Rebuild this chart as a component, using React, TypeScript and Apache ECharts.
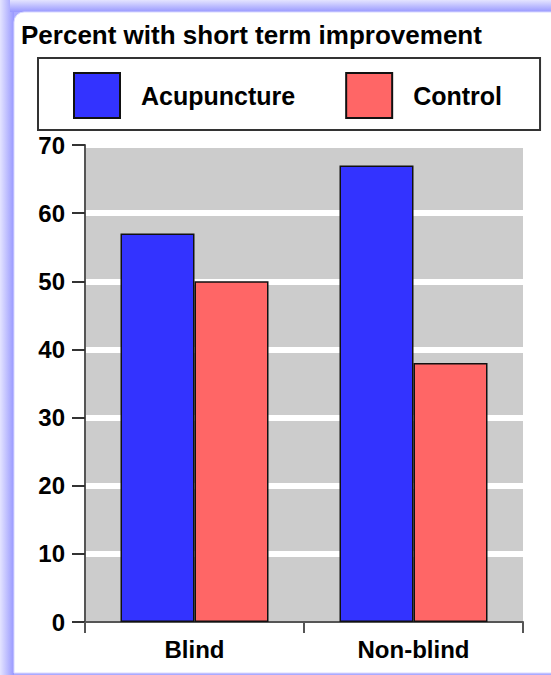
import React, { useEffect, useRef } from "react";
import * as echarts from "echarts";

const categories = ["Blind", "Non-blind"];
const seriesNames = ["Acupuncture", "Control"];
const acupunctureValues = [57, 67];
const controlValues = [50, 38];
const seriesColors = ["#3333ff", "#ff6666"];
const titleText = "Percent with short term improvement";

const FONT = "'Liberation Sans', Arial, Helvetica, sans-serif";

export default function App() {
  const ref = useRef<HTMLDivElement>(null);

  useEffect(() => {
    if (!ref.current) return;
    const chart = echarts.init(ref.current, undefined, { renderer: "svg" });
    const option = {
      animation: false,
      backgroundColor: "transparent",
      textStyle: { fontFamily: FONT },
      graphic: [
        {
          type: "rect",
          z: -100,
          silent: true,
          shape: { x: 0, y: 0, width: 551, height: 675 },
          style: { fill: "#aaaaff" },
        },
        {
          type: "rect",
          z: -99,
          silent: true,
          shape: { x: 0, y: 0, width: 14, height: 675 },
          style: {
            fill: new echarts.graphic.LinearGradient(0, 0, 1, 0, [
              { offset: 0, color: "#e4e4ff" },
              { offset: 1, color: "#9898ff" },
            ]),
          },
        },
        {
          type: "rect",
          z: -99,
          silent: true,
          shape: { x: 10, y: 0, width: 541, height: 12 },
          style: {
            fill: new echarts.graphic.LinearGradient(0, 0, 0, 1, [
              { offset: 0, color: "#e4e4ff" },
              { offset: 1, color: "#9898ff" },
            ]),
          },
        },
        {
          type: "rect",
          z: -98,
          silent: true,
          shape: { x: 14, y: 12, width: 600, height: 661, r: [10, 0, 0, 0] },
          style: { fill: "#ffffff", stroke: "#d8d8ff", lineWidth: 1 },
        },
      ],
      title: {
        text: titleText,
        left: 21,
        top: 22,
        padding: 0,
        textStyle: {
          fontFamily: FONT,
          fontSize: 26,
          fontWeight: "bold",
          color: "#000",
        },
      },
      legend: {
        left: 38,
        top: 58,
        orient: "horizontal",
        padding: [14, 38, 11, 35],
        borderColor: "#333",
        borderWidth: 2,
        itemWidth: 46,
        itemHeight: 45,
        itemGap: 50,
        icon: "rect",
        data: seriesNames,
        textStyle: {
          fontFamily: FONT,
          fontSize: 25,
          fontWeight: "bold",
          color: "#000",
          padding: [0, 0, 0, 16],
        },
      },
      grid: {
        left: 85,
        right: 28,
        top: 145,
        bottom: 53,
        containLabel: false,
      },
      xAxis: {
        type: "category",
        data: categories,
        axisLine: { show: true, lineStyle: { color: "#555", width: 2 } },
        axisTick: {
          show: true,
          length: 11,
          lineStyle: { color: "#555", width: 2 },
        },
        axisLabel: {
          fontFamily: FONT,
          fontSize: 24,
          fontWeight: "bold",
          color: "#000",
          margin: 15,
        },
        splitLine: { show: false },
      },
      yAxis: {
        type: "value",
        min: 0,
        max: 70,
        interval: 10,
        axisLine: { show: true, lineStyle: { color: "#555", width: 2 } },
        axisTick: {
          show: true,
          length: 13,
          lineStyle: { color: "#333", width: 2 },
        },
        axisLabel: {
          fontFamily: FONT,
          fontSize: 24,
          fontWeight: "bold",
          color: "#000",
          margin: 20,
        },
        splitLine: {
          show: true,
          showMinLine: false,
          lineStyle: { color: "#ffffff", width: 6 },
        },
        splitArea: { show: true, areaStyle: { color: ["#cccccc", "#cccccc"] } },
      },
      series: [
        {
          name: seriesNames[0],
          type: "bar",
          data: acupunctureValues,
          barWidth: 74,
          barGap: "0%",
          itemStyle: { color: seriesColors[0], borderColor: "#111", borderWidth: 1.5 },
        },
        {
          name: seriesNames[1],
          type: "bar",
          data: controlValues,
          barWidth: 74,
          barGap: "0%",
          itemStyle: { color: seriesColors[1], borderColor: "#111", borderWidth: 1.5 },
        },
      ],
    };
    chart.setOption(option as any);
    return () => chart.dispose();
  }, []);

  return (
    <div
      ref={ref}
      style={{ position: "absolute", left: 0, top: 0, width: 551, height: 675 }}
    />
  );
}
